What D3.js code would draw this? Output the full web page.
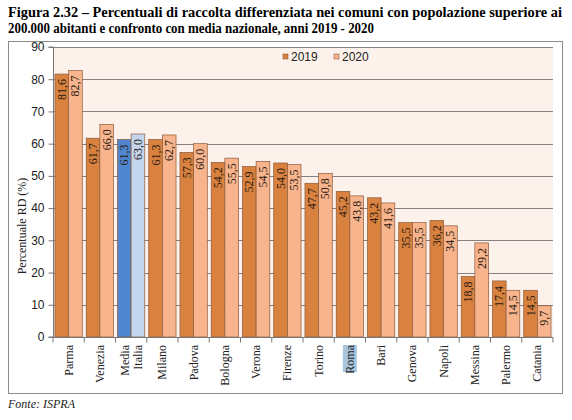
<!DOCTYPE html>
<html><head><meta charset="utf-8">
<script src="https://cdn.jsdelivr.net/npm/d3@7/dist/d3.min.js"></script>
<style>body{margin:0;background:#fff}svg{display:block}</style>
</head><body>
<script>
const categories = ["Parma","Venezia","Media Italia","Milano","Padova","Bologna","Verona","Firenze","Torino","Roma","Bari","Genova","Napoli","Messina","Palermo","Catania"];
const series = ["2019","2020"];
const values2019 = [81.6,61.7,61.3,61.3,57.3,54.2,52.9,54.0,47.7,45.2,43.2,35.5,36.2,18.8,17.4,14.5];
const values2020 = [82.7,66.0,63.0,62.7,60.0,55.5,54.5,53.5,50.8,43.8,41.6,35.5,34.5,29.2,14.5,9.7];
const yTicks = [0,10,20,30,40,50,60,70,80,90];

const W=572,H=420;
const svg=d3.select("body").append("svg").attr("width",W).attr("height",H);
const serif="'Liberation Serif','Times New Roman',serif";
const narrow="'Liberation Sans Narrow','Arial Narrow','Liberation Sans',sans-serif";

// Title
svg.append("text").attr("x",8).attr("y",17).attr("font-family",serif).attr("font-weight","bold").attr("font-size",14)
  .attr("textLength",554).attr("lengthAdjust","spacingAndGlyphs")
  .text("Figura 2.32 – Percentuali di raccolta differenziata nei comuni con popolazione superiore ai");
svg.append("text").attr("x",8).attr("y",33).attr("font-family",serif).attr("font-weight","bold").attr("font-size",14)
  .attr("textLength",366).attr("lengthAdjust","spacingAndGlyphs")
  .text("200.000 abitanti e confronto con media nazionale, anni 2019 - 2020");

// outer frame
svg.append("rect").attr("x",8.5).attr("y",41.5).attr("width",554).attr("height",352).attr("fill","#fff").attr("stroke","#8c8c8c");

const m={l:53,r:553,t:47,b:337};
const x=d3.scaleBand().domain(categories).range([m.l,m.r]).paddingInner(0.126).paddingOuter(0.063);
const x1=d3.scaleBand().domain(series).range([0,x.bandwidth()]);
const y=d3.scaleLinear().domain([0,90]).range([m.b,m.t]);

svg.append("rect").attr("x",m.l).attr("y",m.t).attr("width",m.r-m.l).attr("height",m.b-m.t).attr("fill","#fdf2eb");

// gridlines
svg.append("g").selectAll("line").data(yTicks.filter(d=>d>0)).join("line")
  .attr("x1",m.l).attr("x2",m.r).attr("y1",d=>Math.round(y(d))+0.5).attr("y2",d=>Math.round(y(d))+0.5)
  .attr("stroke","#8a8080").attr("stroke-width",1);

// y axis
const ya=svg.append("g").attr("transform",`translate(${m.l+0.5},0)`)
  .call(d3.axisLeft(y).tickValues(yTicks).tickSize(5).tickPadding(4).tickFormat(d3.format("d")));
ya.select(".domain").attr("stroke","#777").attr("d",`M-5,${y(90)}H0V${y(0)}H-5`);
ya.selectAll(".tick line").attr("stroke","#777");
ya.selectAll(".tick text").attr("font-family",narrow).attr("font-size",12).attr("fill","#222");

// bars
const data=categories.map((c,i)=>({c,vals:[{s:"2019",v:values2019[i]},{s:"2020",v:values2020[i]}]}));
const fill=(c,s)=>c==="Media Italia"?(s==="2019"?"#4f86cf":"#c3d6ee"):(s==="2019"?"#d9823f":"#f8b48c");
const fmt=v=>d3.format(".1f")(v).replace(".",",");
const g=svg.append("g").selectAll("g").data(data).join("g").attr("transform",d=>`translate(${x(d.c)},0)`);
g.selectAll("rect").data(d=>d.vals.map(v=>({...v,c:d.c}))).join("rect")
  .attr("x",d=>x1(d.s)).attr("width",x1.bandwidth()).attr("y",d=>y(d.v)).attr("height",d=>y(0)-y(d.v))
  .attr("fill",d=>fill(d.c,d.s)).attr("stroke","#8b5a3c").attr("stroke-width",0.7);
g.selectAll("text").data(d=>d.vals).join("text")
  .attr("transform",d=>`translate(${x1(d.s)+x1.bandwidth()/2+4},${y(d.v)+5}) rotate(-90)`)
  .attr("text-anchor","end").attr("font-family",serif).attr("font-size",12).attr("fill","#2a1a10")
  .text(d=>fmt(d.v));

// x axis
const xa=svg.append("g").attr("transform",`translate(0,${m.b+0.5})`);
xa.append("line").attr("x1",m.l).attr("x2",m.r).attr("stroke","#777");
const bounds=categories.map(c=>x(c)-x.step()*x.paddingInner()/2).concat([m.r]);
xa.selectAll("line.t").data(bounds).join("line").attr("class","t")
  .attr("x1",d=>d).attr("x2",d=>d).attr("y1",0).attr("y2",5).attr("stroke","#777");
categories.forEach(c=>{
  const cx=x(c)+x.bandwidth()/2;
  const lines=c==="Media Italia"?["Media","Italia"]:[c];
  lines.forEach((t,k)=>{
    const off=(k-(lines.length-1)/2)*13;
    const tx=cx+off+4, ty=m.b+8;
    if(c==="Roma"){
      svg.append("rect").attr("x",tx-11).attr("y",ty).attr("width",14).attr("height",27).attr("fill","#a9c6df");
    }
    svg.append("text").attr("transform",`translate(${tx},${ty}) rotate(-90)`).attr("text-anchor","end")
      .attr("font-family",serif).attr("font-size",12).attr("fill","#222").text(t);
  });
});

// y label
svg.append("text").attr("transform",`translate(26,226) rotate(-90)`).attr("text-anchor","middle")
  .attr("font-family",serif).attr("font-size",12).attr("fill","#222").text("Percentuale RD (%)");

// legend
const lg=svg.append("g");
const lx=[283,334];
series.forEach((s,i)=>{
  lg.append("rect").attr("x",lx[i]).attr("y",54).attr("width",5).attr("height",5)
    .attr("fill",s==="2019"?"#d9823f":"#f8b48c").attr("stroke","#8b5a3c").attr("stroke-width",0.6);
  lg.append("text").attr("x",lx[i]+8).attr("y",61).attr("font-family",narrow).attr("font-size",12).attr("fill","#222").text(s);
});

// source
svg.append("text").attr("x",8).attr("y",408).attr("font-family",serif).attr("font-style","italic").attr("font-size",12).attr("fill","#222").text("Fonte: ISPRA");
</script>
</body></html>
